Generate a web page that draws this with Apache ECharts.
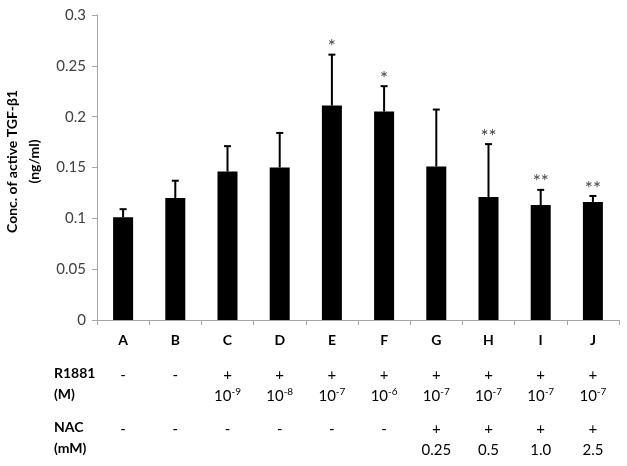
<!DOCTYPE html>
<html>
<head>
<meta charset="utf-8">
<script src="https://cdn.jsdelivr.net/npm/echarts@6/dist/echarts.min.js"></script>
<style>
  html, body { margin: 0; padding: 0; background: #fff; }
  #chart { width: 627px; height: 466px; }
</style>
</head>
<body>
<div id="chart"></div>
<script>
const categories = ['A', 'B', 'C', 'D', 'E', 'F', 'G', 'H', 'I', 'J'];
const means = [0.101, 0.120, 0.146, 0.150, 0.211, 0.205, 0.151, 0.121, 0.113, 0.116];
const errors = [0.008, 0.017, 0.025, 0.034, 0.050, 0.025, 0.056, 0.052, 0.015, 0.006];
const stars = ['', '', '', '', '*', '*', '', '**', '**', '**'];
const r1881 = ['-', '-', '+', '+', '+', '+', '+', '+', '+', '+'];
const r1881Exp = ['', '', '-9', '-8', '-7', '-6', '-7', '-7', '-7', '-7'];
const nac = ['-', '-', '-', '-', '-', '-', '+', '+', '+', '+'];
const nacConc = ['', '', '', '', '', '', '0.25', '0.5', '1.0', '2.5'];
const yTicks = { min: 0, max: 0.3, interval: 0.05 };

const font = 'Lato';
const chart = echarts.init(document.getElementById('chart'));

const errData = means.map((m, i) => [i, m, m + errors[i]]);

const option = {
  animation: false,
  grid: { left: 97, right: 8, top: 15, bottom: 146, outerBoundsMode: 'none', containLabel: false },
  xAxis: {
    type: 'category',
    data: categories,
    axisLine: { lineStyle: { color: '#a6a6a6', width: 1 } },
    axisTick: { show: true, length: 5, lineStyle: { color: '#a6a6a6' } },
    axisLabel: {
      margin: 10,
      interval: 0,
      formatter: (val, i) => {
        const conc = r1881Exp[i] ? '{v|10}{sup|' + r1881Exp[i] + '}' : '{v| }';
        const n = nacConc[i] ? '{v|' + nacConc[i] + '}' : '{v| }';
        return '{c|' + val + '}\n{sp| }\n{p|' + r1881[i] + '}\n' + conc +
          '\n{sp2| }\n{p|' + nac[i] + '}\n' + n;
      },
      rich: {
        c: { fontFamily: font, fontWeight: 'bold', fontSize: 14, color: '#000', lineHeight: 20 },
        sp: { fontSize: 10, lineHeight: 15 },
        sp2: { fontSize: 10, lineHeight: 12 },
        p: { fontFamily: font, fontSize: 15, color: '#000', lineHeight: 20 },
        v: { fontFamily: font, fontSize: 15, color: '#000', lineHeight: 22 },
        sup: { fontFamily: font, fontSize: 10, color: '#000', lineHeight: 22, verticalAlign: 'top', padding: [2, 0, 0, 0] }
      }
    }
  },
  yAxis: {
    type: 'value',
    min: yTicks.min,
    max: yTicks.max,
    interval: yTicks.interval,
    name: 'Conc. of active TGF-\u03b21\n(ng/ml)',
    nameLocation: 'middle',
    nameRotate: 90,
    nameGap: 52,
    nameTextStyle: {
      fontFamily: font, fontWeight: 'bold', fontSize: 14, color: '#000', lineHeight: 22,
      padding: [0, 0, 0, 12]
    },
    axisLine: { show: true, lineStyle: { color: '#a6a6a6', width: 1 } },
    axisTick: { show: true, length: 5, lineStyle: { color: '#a6a6a6' } },
    splitLine: { show: false },
    axisLabel: {
      margin: 11,
      fontFamily: font,
      fontSize: 15,
      color: '#404040',
      formatter: v => String(Math.round(v * 100) / 100)
    }
  },
  graphic: [
    { type: 'text', left: 54, top: 366, style: { text: 'R1881', font: 'bold 14px Lato', fill: '#000' } },
    { type: 'text', left: 54, top: 387, style: { text: '(M)', font: 'bold 14px Lato', fill: '#000' } },
    { type: 'text', left: 54, top: 420, style: { text: 'NAC', font: 'bold 14px Lato', fill: '#000' } },
    { type: 'text', left: 54, top: 441, style: { text: '(mM)', font: 'bold 14px Lato', fill: '#000' } }
  ],
  series: [
    {
      type: 'bar',
      data: means,
      barWidth: 20,
      itemStyle: { color: '#000' }
    },
    {
      type: 'custom',
      data: errData,
      encode: { x: 0, y: [1, 2] },
      z: 3,
      renderItem: (params, api) => {
        const base = api.coord([api.value(0), api.value(1)]);
        const top = api.coord([api.value(0), api.value(2)]);
        const x = base[0];
        return {
          type: 'group',
          children: [
            { type: 'line', shape: { x1: x, y1: base[1], x2: x, y2: top[1] },
              style: { stroke: '#000', lineWidth: 2 } },
            { type: 'line', shape: { x1: x - 3.5, y1: top[1], x2: x + 3.5, y2: top[1] },
              style: { stroke: '#000', lineWidth: 2 } },
            { type: 'text',
              style: { text: stars[params.dataIndex], x: x, y: top[1] + 2,
                align: 'center', verticalAlign: 'bottom',
                font: '19px Lato', fill: '#444' } }
          ]
        };
      }
    }
  ]
};

chart.setOption(option);
</script>
</body>
</html>
